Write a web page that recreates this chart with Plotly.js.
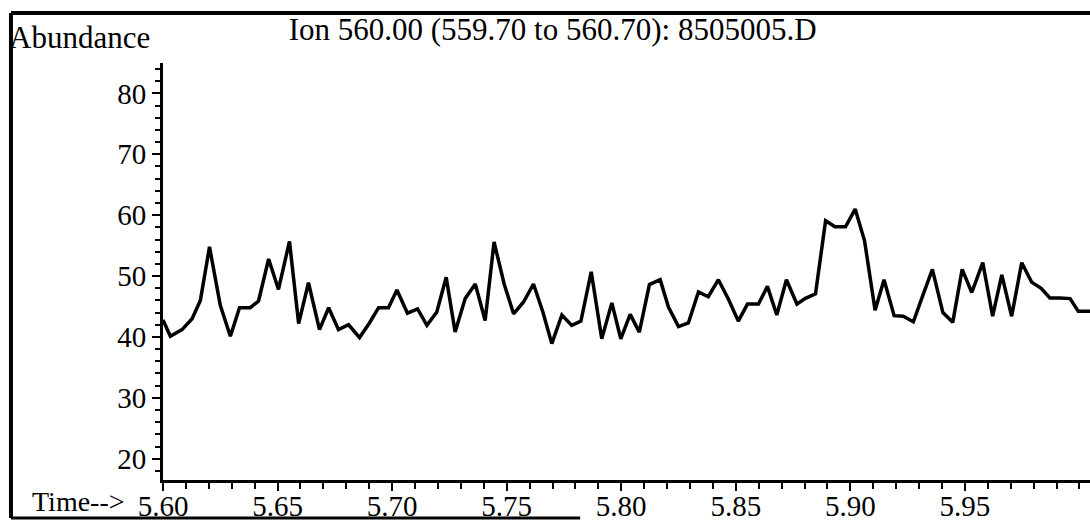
<!DOCTYPE html>
<html>
<head>
<meta charset="utf-8">
<script src="https://cdn.plot.ly/plotly-3.0.1.min.js"></script>
<style>
html, body { margin: 0; padding: 0; background: #ffffff; }
#chart { width: 1090px; height: 521px; }
</style>
</head>
<body>
<div id="chart"></div>
<script>
// Retention time (min)
const timeMin = [
  5.6000, 5.6032, 5.6083, 5.6127, 5.6163, 5.6203, 5.6250, 5.6294, 5.6334, 5.6381,
  5.6417, 5.6461, 5.6504, 5.6552, 5.6592, 5.6635, 5.6683, 5.6723, 5.6766, 5.6810,
  5.6858, 5.6901, 5.6941, 5.6984, 5.7021, 5.7067, 5.7111, 5.7152, 5.7195, 5.7236,
  5.7275, 5.7319, 5.7363, 5.7406, 5.7445, 5.7489, 5.7530, 5.7573, 5.7617, 5.7658,
  5.7697, 5.7741, 5.7784, 5.7824, 5.7869, 5.7915, 5.7959, 5.7998, 5.8039, 5.8079,
  5.8123, 5.8170, 5.8206, 5.8250, 5.8293, 5.8337, 5.8380, 5.8424, 5.8468, 5.8511,
  5.8551, 5.8599, 5.8638, 5.8679, 5.8721, 5.8767, 5.8802, 5.8848, 5.8892, 5.8933,
  5.8979, 5.9021, 5.9062, 5.9108, 5.9147, 5.9191, 5.9231, 5.9275, 5.9316, 5.9358,
  5.9404, 5.9447, 5.9488, 5.9530, 5.9578, 5.9621, 5.9661, 5.9704, 5.9748, 5.9791,
  5.9833, 5.9871, 5.9915, 5.9959, 5.9995, 6.0046
];

// Abundance
const abundance = [
  42.8, 40.1, 41.2, 43.0, 46.0, 54.8, 45.2, 40.1, 44.8, 44.8,
  45.9, 52.8, 47.8, 55.7, 42.2, 48.9, 41.2, 44.8, 41.2, 42.0,
  39.9, 42.3, 44.8, 44.8, 47.7, 43.9, 44.6, 41.9, 44.1, 49.8,
  40.8, 46.3, 48.7, 42.7, 55.6, 48.7, 43.8, 45.7, 48.7, 44.1,
  38.9, 43.6, 41.9, 42.6, 50.7, 39.7, 45.6, 39.7, 43.7, 40.8,
  48.6, 49.4, 44.9, 41.7, 42.3, 47.4, 46.6, 49.4, 46.2, 42.6,
  45.4, 45.4, 48.3, 43.6, 49.4, 45.4, 46.3, 47.1, 59.1, 58.1,
  58.1, 61.0, 55.8, 44.4, 49.4, 43.5, 43.4, 42.5, 46.8, 51.1,
  44.0, 42.4, 51.1, 47.3, 52.2, 43.4, 50.2, 43.4, 52.2, 49.0,
  48.0, 46.4, 46.4, 46.3, 44.2, 44.2
];

const xTickVals = [5.60, 5.65, 5.70, 5.75, 5.80, 5.85, 5.90, 5.95];
const xTickText = ['5.60', '5.65', '5.70', '5.75', '5.80', '5.85', '5.90', '5.95'];
const yTickVals = [20, 30, 40, 50, 60, 70, 80];
const yTickText = ['20', '30', '40', '50', '60', '70', '80'];

const titleText = 'Ion 560.00 (559.70 to 560.70): 8505005.D';
const yLabelText = 'Abundance';
const xLabelText = 'Time-->';

const serif = "'Liberation Serif', 'Times New Roman', 'DejaVu Serif', serif";

const trace = {
  x: timeMin,
  y: abundance,
  type: 'scatter',
  mode: 'lines',
  line: { color: '#000000', width: 3.5 },
  hoverinfo: 'x+y',
  showlegend: false
};

const layout = {
  width: 1090,
  height: 521,
  margin: { l: 163, r: 0, t: 63, b: 41, pad: 0 },
  paper_bgcolor: '#ffffff',
  plot_bgcolor: '#ffffff',
  showlegend: false,
  font: { family: serif, color: '#000000' },
  title: {
    text: titleText,
    x: 0.507,
    xanchor: 'center',
    xref: 'container',
    y: 0.945,
    yanchor: 'middle',
    yref: 'container',
    font: { family: serif, size: 31, color: '#000000' }
  },
  xaxis: {
    range: [5.6, 6.0046],
    showgrid: false,
    zeroline: false,
    showline: true,
    linecolor: '#000000',
    linewidth: 3,
    ticks: 'outside',
    ticklen: 8,
    tickwidth: 2,
    tickcolor: '#000000',
    tickmode: 'array',
    tickvals: xTickVals,
    ticktext: xTickText,
    ticklabelstandoff: -10,
    tickfont: { family: serif, size: 29, color: '#000000' },
    minor: { dtick: 0.01, tick0: 5.6, ticks: 'outside', ticklen: 6, tickwidth: 2, tickcolor: '#000000', showgrid: false }
  },
  yaxis: {
    range: [16.5, 85],
    showgrid: false,
    zeroline: false,
    showline: true,
    linecolor: '#000000',
    linewidth: 3,
    ticks: 'outside',
    ticklen: 8,
    tickwidth: 2,
    tickcolor: '#000000',
    tickmode: 'array',
    tickvals: yTickVals,
    ticktext: yTickText,
    tickfont: { family: serif, size: 29, color: '#000000' },
    minor: { dtick: 2, tick0: 0, ticks: 'outside', ticklen: 5, tickwidth: 2, tickcolor: '#000000', showgrid: false }
  },
  annotations: [
    {
      text: yLabelText,
      xref: 'paper', yref: 'paper',
      x: -0.168, xanchor: 'left',
      y: 1.06, yanchor: 'middle',
      showarrow: false,
      font: { family: serif, size: 31, color: '#000000' }
    },
    {
      text: xLabelText,
      xref: 'paper', yref: 'paper',
      x: -0.0388, xanchor: 'right',
      y: -0.052, yanchor: 'middle',
      showarrow: false,
      font: { family: serif, size: 28, color: '#000000' }
    }
  ],
  shapes: [
    { type: 'line', xref: 'paper', yref: 'paper', x0: -0.164, x1: 1.0, y0: 1.12, y1: 1.12, line: { color: '#000000', width: 4 } },
    { type: 'line', xref: 'paper', yref: 'paper', x0: -0.164, x1: -0.164, y0: 1.12, y1: -0.091, line: { color: '#000000', width: 4 } },
    { type: 'line', xref: 'paper', yref: 'paper', x0: -0.164, x1: 0.45, y0: -0.091, y1: -0.091, line: { color: '#000000', width: 3 } }
  ]
};

Plotly.newPlot('chart', [trace], layout, { displayModeBar: false, staticPlot: true });
</script>
</body>
</html>
